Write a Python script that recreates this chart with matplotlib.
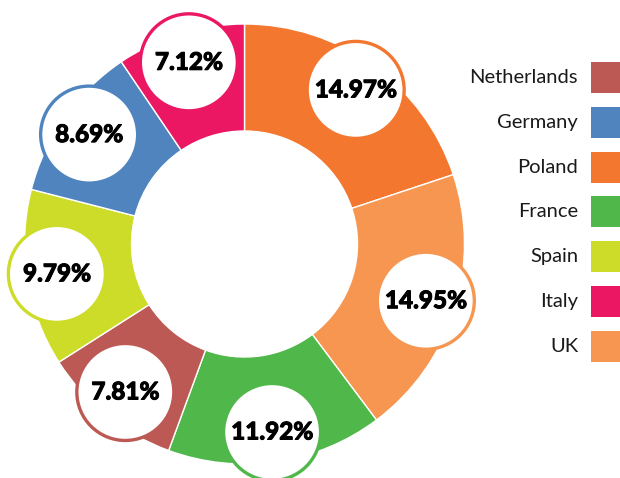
import numpy as np
import matplotlib
matplotlib.use("Agg")
import matplotlib.pyplot as plt
import matplotlib.patheffects as pe
from matplotlib.patches import Circle, Rectangle

# slices, clockwise from 12 o'clock
countries = ["Poland", "UK", "France", "Netherlands", "Spain", "Germany", "Italy"]
shares = [14.97, 14.95, 11.92, 7.81, 9.79, 8.69, 7.12]
colours = {
    "Netherlands": "#BC5954",
    "Germany": "#4F84BE",
    "Poland": "#F3772E",
    "France": "#50B74A",
    "Spain": "#CDDC28",
    "Italy": "#EB1762",
    "UK": "#F69650",
}
legend_order = ["Netherlands", "Germany", "Poland", "France", "Spain", "Italy", "UK"]

W, H = 620, 478
fig = plt.figure(figsize=(W / 100, H / 100), dpi=100)
ax = fig.add_axes([0, 0, 1, 1])

cx, cy = 244.5, H - 244
r_out, r_in = 220, 113

ax.pie(shares, colors=[colours[c] for c in countries], radius=r_out,
       center=(cx, cy), startangle=90, counterclock=False,
       wedgeprops=dict(width=r_out - r_in, edgecolor="white", linewidth=1))

# label bubbles at the middle of each slice
fracs = np.array(shares) / sum(shares)
mids = np.cumsum(fracs) - fracs / 2
r_lab = 190
heavy = [pe.withStroke(linewidth=0.7, foreground="black")]
for c, v, m in zip(countries, shares, mids):
    ang = np.deg2rad(90 - m * 360)
    x = cx + r_lab * np.cos(ang)
    y = cy + r_lab * np.sin(ang)
    ax.add_patch(Circle((x, y), 48.5, facecolor="white", edgecolor=colours[c],
                        linewidth=2.4, zorder=5))
    ax.text(x, y, "%.2f%%" % v, ha="center", va="center", fontsize=17.5,
            fontfamily="Lato", fontweight="black", color="black", zorder=6,
            path_effects=heavy)

# legend
y0, step = H - 77.5, 44.8
for i, c in enumerate(legend_order):
    y = y0 - i * step
    ax.add_patch(Rectangle((591, y - 15.5), 32, 31, facecolor=colours[c],
                           edgecolor="none", clip_on=False))
    ax.text(578, y, c, ha="right", va="center", fontsize=14.5,
            fontfamily="Lato", color="#1a1a1a")

ax.set_xlim(0, W)
ax.set_ylim(0, H)
ax.set_aspect("equal")
ax.axis("off")

fig.savefig("out.png", dpi=100)
